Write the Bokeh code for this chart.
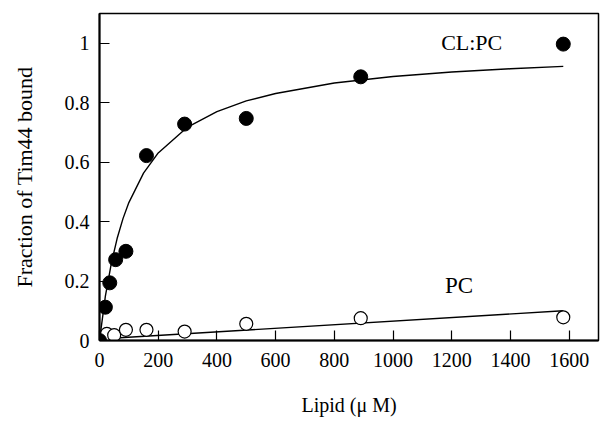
from bokeh.plotting import figure
from bokeh.models import Range1d, FixedTicker, Label
from bokeh.embed import file_html
from bokeh.resources import INLINE

# ---- data ----
cl_x = [0, 20, 35, 55, 90, 160, 290, 500, 890, 1580]
cl_y = [0.0, 0.112, 0.194, 0.272, 0.300, 0.622, 0.728, 0.747, 0.887, 0.997]

pc_x = [0, 25, 50, 90, 160, 290, 500, 890, 1580]
pc_y = [0.0, 0.022, 0.018, 0.036, 0.036, 0.030, 0.056, 0.075, 0.078]

# fitted curves
cl_fit_x = [0, 20, 40, 60, 80, 100, 150, 200, 300, 400, 500, 600, 800, 1000, 1200, 1400, 1580]
cl_fit_y = [0.0, 0.149, 0.258, 0.343, 0.410, 0.464, 0.563, 0.631, 0.718, 0.770, 0.806,
            0.831, 0.866, 0.888, 0.903, 0.914, 0.922]
pc_fit_x = [0, 1580]
pc_fit_y = [0.005, 0.100]

x_ticks = [0, 200, 400, 600, 800, 1000, 1200, 1400, 1600]
y_ticks = [0, 0.2, 0.4, 0.6, 0.8, 1.0]
y_tick_labels = {0: "0", 0.2: "0.2", 0.4: "0.4", 0.6: "0.6", 0.8: "0.8", 1.0: "1"}

FONT = "Liberation Serif"

p = figure(frame_width=499, frame_height=327, output_backend="svg", toolbar_location=None,
           x_range=Range1d(0, 1700), y_range=Range1d(0, 1.1),
           min_border_left=99, min_border_top=13, min_border_right=6, min_border_bottom=83)

p.xgrid.visible = False
p.ygrid.visible = False
p.outline_line_color = "black"
p.outline_line_width = 1.5
p.background_fill_color = "white"
p.border_fill_color = "white"

for ax in (p.xaxis[0], p.yaxis[0]):
    ax.axis_line_width = 2
    ax.axis_line_color = "black"
    ax.major_tick_in = 10
    ax.major_tick_out = 0
    ax.major_tick_line_width = 1.2
    ax.major_tick_line_color = "black"
    ax.minor_tick_line_color = None
    ax.major_label_text_font = FONT
    ax.major_label_text_font_size = "20px"
    ax.major_label_text_color = "black"
    ax.axis_label_text_font = FONT
    ax.axis_label_text_font_size = "20px"
    ax.axis_label_text_font_style = "normal"
    ax.axis_label_text_color = "black"

p.yaxis.axis_label_text_font_size = "22px"
p.xaxis.ticker = FixedTicker(ticks=x_ticks)
p.yaxis.ticker = FixedTicker(ticks=y_ticks)
p.yaxis.major_label_overrides = y_tick_labels
p.xaxis.axis_label = "Lipid (\u03bc M)"
p.yaxis.axis_label = "Fraction of Tim44 bound"
p.xaxis.major_label_standoff = 12
p.yaxis.major_label_standoff = 10
p.xaxis.axis_label_standoff = 24
p.yaxis.axis_label_standoff = 25

# PC series
p.line(pc_fit_x, pc_fit_y, line_color="black", line_width=1.4)
p.scatter(pc_x, pc_y, size=13, marker="circle", fill_color="white",
          line_color="black", line_width=1.2)

# CL:PC series
p.line(cl_fit_x, cl_fit_y, line_color="black", line_width=1.4)
p.scatter(cl_x, cl_y, size=14, marker="circle", fill_color="black", line_color="black")

p.add_layout(Label(x=1268, y=1.003, text="CL:PC", text_font=FONT, text_font_size="22px",
                   text_align="center", text_baseline="middle", text_color="black"))
p.add_layout(Label(x=1225, y=0.185, text="PC", text_font=FONT, text_font_size="23px",
                   text_align="center", text_baseline="middle", text_color="black"))

open("out.html", "w").write(file_html(p, INLINE))
